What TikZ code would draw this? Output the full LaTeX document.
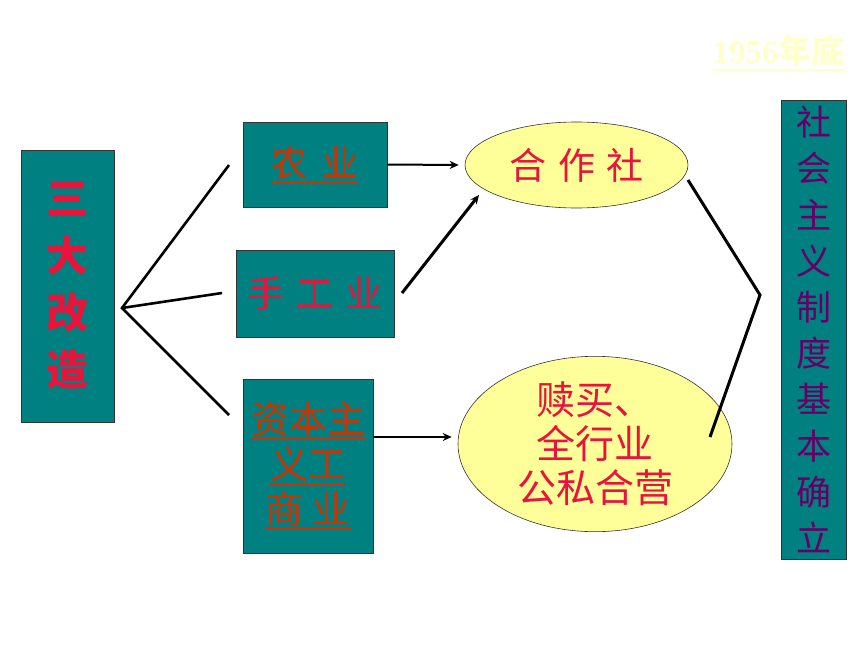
\documentclass[tikz,border=0pt]{standalone}
\usepackage{fontspec}
\newfontfamily\cjk{Noto Sans CJK SC}
\newfontfamily\lserif{Liberation Serif}
\usetikzlibrary{arrows.meta,shapes.geometric}
\definecolor{teal2}{RGB}{0,128,128}
\definecolor{crim}{RGB}{232,20,60}
\definecolor{ored}{RGB}{204,51,0}
\definecolor{pyel}{RGB}{255,255,153}
\definecolor{purp}{RGB}{102,0,102}
\definecolor{pale}{RGB}{255,255,204}
\newcommand\myul[2][-6pt]{\setbox0\hbox{#2}\leavevmode\rlap{\rule[#1]{\wd0}{1.8pt}}\box0}
\begin{document}
\begin{tikzpicture}[x=1pt,y=-1pt,
  box/.style={draw=black!80, fill=teal2, line width=0.8pt, inner sep=0pt, align=center},
  oval/.style={ellipse, draw=black!80, fill=pyel, line width=0.6pt, inner sep=0pt, align=center},
  link/.style={line width=2.6pt, line join=miter},
  arr/.style={line width=2pt, -{Stealth[length=9pt,width=8pt]}}]
\useasboundingbox (0,0) rectangle (860,645);
% left box
\node[box, minimum width=93pt, minimum height=272pt, text=crim,
  font=\cjk\bfseries\fontsize{42}{57}\selectfont] (sd) at (67.5,286) {三\\大\\改\\造};
% middle boxes
\node[box, minimum width=144pt, minimum height=85pt, text=ored,
  font=\cjk\fontsize{36}{40}\selectfont] (ny) at (315,164.5) {\myul{农\hspace{0.4em}业}};
\node[box, minimum width=158pt, minimum height=87pt, text=crim,
  font=\cjk\fontsize{37}{40}\selectfont] (sg) at (315,293.5) {手\hspace{0.32em}工\hspace{0.32em}业};
\node[box, minimum width=130pt, minimum height=174pt, text=ored,
  font=\cjk\fontsize{38}{45}\selectfont] (zb) at (308,466) {\myul{资本主}\\\myul{义工}\\\myul{商\hspace{0.25em}业}};
% ellipses
\node[oval, minimum width=223pt, minimum height=86pt, text=crim,
  font=\cjk\fontsize{37}{40}\selectfont] (hzs) at (576.5,165) {合\hspace{0.32em}作\hspace{0.32em}社};
\node[oval, minimum width=274pt, minimum height=158pt, text=crim,
  font=\cjk\fontsize{39}{44}\selectfont] (mm) at (595,444) {赎买、\\全行业\\公私合营};
% right box
\node[box, minimum width=65pt, minimum height=459pt, text=purp,
  font=\cjk\fontsize{35}{46.2}\selectfont] (sh) at (813.5,329.5) {社\\会\\主\\义\\制\\度\\基\\本\\确\\立};
% date
\node[text=pale, inner sep=0pt, font=\fontsize{33}{36}\selectfont] (dt) at (778.5,53)
  {\myul[-8pt]{{\lserif\bfseries 1956}{\cjk\bfseries 年底}}};
% fan connectors
\coordinate (apex) at (122,308);
\coordinate (f1) at (229,165);
\coordinate (f2) at (222,293);
\coordinate (f3) at (229,415);
\draw[link] (f1) -- (apex) -- (f3);
\draw[link] (apex) -- (f2);
% arrows
\draw[arr] (ny.east) -- ([xshift=-6pt]hzs.west);
\coordinate (a2s) at (402,293);
\coordinate (a2e) at (479,195);
\draw[arr, line width=3pt] (a2s) -- (a2e);
\draw[arr] ([yshift=29pt]zb.east) -- ([xshift=-6pt,yshift=7pt]mm.west);
% right connector
\coordinate (r1) at (688,180);
\coordinate (rm) at (760,295);
\coordinate (r2) at (710,437);
\draw[link, line width=3pt] (r1) -- (rm) -- (r2);
\end{tikzpicture}
\end{document}
